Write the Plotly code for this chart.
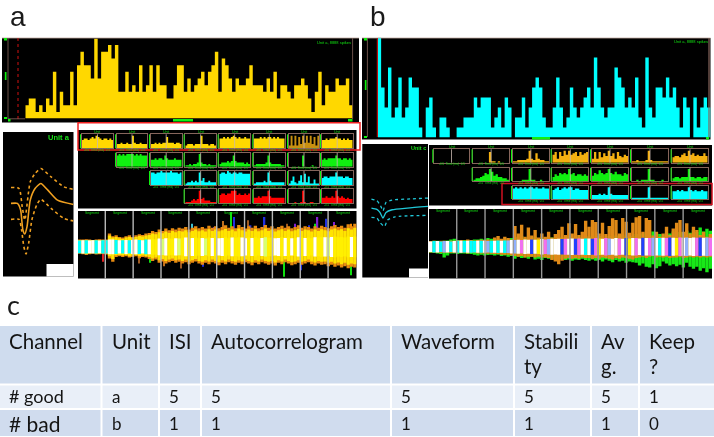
import plotly.graph_objects as go

W, H = 714, 437
GOLD, GREEN, CYAN, RED = "#FFD800", "#10F010", "#00FFFF", "#FF0000"

# ---------- data ----------
hist_a = [2,3,3,1,2,1,3,2,7,1,4,2,2,7,2,8,10,8,8,6,12,6,10,10,11,9,11,4,4,7,4,5,4,8,4,5,8,4,8,5,5,3,3,5,8,8,4,6,4,5,6,7,5,7,8,10,4,9,8,6,4,6,5,5,6,8,5,5,5,4,6,4,7,3,5,5,4,3,5,5,6,5,3,1,4,7,2,5,4,4,6,5,5,6,2]
hist_b = [10,5,3,7,2,3,6,2,3,6,5,5,1,0,3,4,1,0,2,2,1,0,0,1,1,2,2,2,4,3,4,4,4,1,2,3,1,4,3,0,2,2,4,1,3,5,6,5,2,1,1,3,6,3,1,2,5,3,2,3,4,5,3,8,5,3,2,3,3,7,6,5,3,4,3,6,2,1,8,3,2,5,5,4,6,4,5,3,1,4,3,0,4,1,3,4,3]

# cross-correlogram grids: each row lists its cells
grid_a_yellow = [
 [6,7,7,6,7,8,7,9,8,7,6,7,7,6,7,6],[3,3,4,3,3,4,3,3,9,4,3,3,4,3,3,3],[3,3,4,3,4,3,4,4,8,4,4,4,3,4,4,3],
 [2,3,3,3,2,3,3,3,9,3,3,3,2,3,3,2],[7,7,8,7,8,7,8,9,8,7,8,7,7,8,7,7],[7,7,7,8,7,8,7,8,8,7,8,7,8,7,7,7],
 [2,9,2,9,2,8,3,9,4,9,4,9,3,8,2,9],[6,6,7,6,7,7,7,8,7,7,6,7,6,7,6,6]]
grid_a_green = [
 [8,9,8,9,8,9,9,9,9,8,9,8,9,8,8,8],[5,5,6,5,6,6,5,8,6,5,5,5,6,5,5,5],[1,1,2,1,2,2,3,9,3,2,2,1,2,1,1,1],
 [2,3,3,3,4,3,4,8,4,3,3,3,3,2,3,2],[1,2,2,2,2,2,3,8,3,2,2,2,2,2,1,1],[0,0,0,0,0,0,0,8,0,0,0,0,1,0,0,0],
 [5,6,5,6,6,6,6,8,6,6,5,6,6,5,6,5]]
grid_a_cyan = [
 [9,9,8,9,9,10,9,9,9,9,10,9,9,9,8,9],[1,2,2,3,2,3,2,9,3,5,2,2,3,2,2,2],[8,9,9,8,10,9,8,9,9,8,9,9,8,8,8,8],
 [1,2,2,2,2,3,2,9,3,2,2,2,2,2,2,2],[1,3,6,2,1,3,7,2,8,2,6,1,1,4,1,1],[5,6,6,5,6,6,6,9,6,6,6,5,6,6,5,5]]
grid_a_red = [
 [1,1,1,2,3,2,3,9,3,4,2,2,2,1,1,1],[6,7,7,6,7,7,9,9,9,6,7,6,6,7,6,7],[4,4,5,4,5,5,5,9,5,4,4,4,4,4,4,4],
 [0,0,0,1,0,0,1,9,1,0,0,1,1,0,0,0],[4,4,5,4,4,5,4,9,5,4,5,4,3,4,3,3]]
grid_b_gold = [
 [0,0,0,0,0,0,0,0,0,0,0,0,0,0,0,0],[0,0,0,0,0,0,0,8,1,1,0,1,0,0,0,0],[1,1,2,2,2,2,3,9,3,2,7,3,2,2,1,1],
 [6,8,3,8,5,9,6,9,6,7,8,5,8,6,7,8],[3,8,3,8,4,7,5,9,5,7,3,8,5,4,6,5],[1,1,2,1,1,1,2,9,2,1,1,1,1,1,1,1],
 [4,5,5,4,6,7,5,9,6,7,5,6,5,5,7,5]]
grid_b_green = [
 [1,2,2,3,4,6,5,9,7,4,5,3,3,2,2,1],[0,0,0,0,1,1,1,9,1,1,0,0,1,0,0,0],[3,5,4,6,5,6,5,9,5,6,4,5,5,4,5,4],
 [4,6,5,8,6,5,6,9,6,5,7,5,5,4,6,5],[0,0,1,0,1,1,1,9,1,1,0,0,0,1,0,0],[2,3,3,2,3,3,3,9,3,3,2,3,3,2,3,3]]
grid_b_cyan = [
 [8,9,8,9,8,9,8,9,9,8,9,8,8,9,8,8],[7,8,9,7,8,9,8,9,9,7,8,8,7,7,7,7],[3,3,3,4,3,4,3,9,4,3,3,3,3,3,3,3],
 [1,1,1,1,1,1,1,9,1,1,1,1,1,1,1,1],[6,6,7,6,7,6,6,9,7,6,7,6,6,7,6,6]]

# average waveforms (sample, amplitude)
wave_a_t   = [0,20,30,37,43,50,60,75,93,115,145,195]
wave_a_m   = [0,0,-20,-80,-92,-70,10,45,60,40,10,-3]
wave_a_up_t= [0,25,35,43,60,75,93,125,165,195]
wave_a_up  = [48,45,-10,-50,65,90,105,80,50,42]
wave_a_lo_t= [0,25,33,40,47,55,65,80,93,125,165,195]
wave_a_lo  = [-48,-48,-80,-130,-152,-120,-50,-5,12,-15,-45,-53]
wave_b_t   = [0,18,28,38,48,68,118,186]
wave_b_m   = [0,-4,-13,-30,-13,-5,0,5]
wave_b_up_t= [0,18,30,38,48,68,118,186]
wave_b_up  = [27,22,7,-8,17,24,27,30]
wave_b_lo_t= [0,18,28,43,53,78,186]
wave_b_lo  = [-28,-30,-43,-55,-36,-26,-22]

# stability bands: upper and lower extent per time column
band_a_orange_hi = [22,22,23,22,21,22,23,22,22, 40,32,35,30, 28,32,35,30,35,38,36,40, 42,48,45,52,48,55,50,56,52,58,
 55,60,52,58,62,56,60,55,64,58,62,56,60,65,58,62,56,66,60,55, 62,58,64,56,60,66,58,62,55,60,64,58,62,56,60,65,58,62,60,55, 62,58,64,60,56,62,66,60,64,58,68,62,70]
band_a_orange_lo = [20,22,24,22,20,23,22,21,23, 35,45,30,28, 30,28,32,30,28,34,30,32, 36,42,38,48,44,50,46,42,48,45,
 50,46,52,48,44,50,54,48,52,46,50,55,48,52,46,50,54,48,52,46, 50,55,48,52,46,50,54,50,56,48,52,46,50,55,52,48,54,50,46,52, 56,50,54,52,58,54,60,56,62,58,64,60,62]
band_a_yellow_hi = [20,20,21,20,21,20,20,21,20, 34,28,30,26, 24,28,30,26,30,33,31,34, 36,40,38,44,41,46,42,48,44,48,
 46,50,44,48,52,47,50,46,53,48,52,47,50,54,48,52,47,55,50,46, 52,48,53,47,50,55,48,52,46,50,53,48,52,47,50,54,48,52,50,46, 52,48,53,50,47,52,55,50,53,48,56,52,58]
band_a_yellow_lo = [19,20,21,20,19,20,20,19,20, 28,36,25,24, 26,24,28,26,24,28,26,28, 30,35,32,40,36,42,38,35,40,38,
 42,38,44,40,36,42,45,40,44,38,42,46,40,44,38,42,45,40,44,38, 42,46,40,44,38,42,45,42,47,40,44,38,42,46,44,40,45,42,38,44, 47,42,45,44,48,45,50,47,52,48,54,50,52]
band_a_core = [19,20,20,19,20,20,19,20,20, 22,22,21,20, 20,21,20,21,22,21,20,22, 22,24,23,25,24,26,25,24,26,25,
 26,28,25,27,28,26,27,25,28,27,28,26,27,29,26,28,27,29,28,26, 28,27,29,26,27,29,27,28,26,27,29,27,28,26,27,29,28,27,28,26, 29,28,30,29,28,30,31,29,30,28,31,30,31]
band_a_core_colors = "cwcwwcwcc" "wwcw" "cwcwwcwc" "wyywlwyywl" "ywywyywlywywwyywyyww" "ywyywlyywwywywywywyy" "wyywlwyyyyywy"
spike_a_x     = [41,45,49,55,56,61,62,67,75,78,83,85,86,89,98,74,80,45,9,37,98,22,26,31,92,52]
spike_a_hi    = [70,50,60,105,90,80,65,90,70,70,65,70,90,85,70,0,0,0,0,0,0,0,0,0,75,78]
spike_a_lo    = [0,0,0,0,0,0,0,0,0,0,0,0,0,0,0,-90,-70,-60,-45,-65,-85,-50,-48,-58,0,0]
spike_a_color = ["#40C0D0","#2030E0","#8020D0","#10E010","#2030E0","#A05A20","#2030E0","#2030E0","#A05A20","#8020D0","#2030E0","#10E010","#8020D0","#2030E0","#FF8C00","#10E010","#2030E0","#2030E0","#E02020","#A05A20","#10E010","#A05A20","#10E010","#C07020","#8020D0","#C07020"]

band_b_orange_hi = [17,18,17,18,18,17,18,18,19,20,18,22,20,18,20,21,20,22,19,28,32,24,30,26,22,
 62,40,66,30,58,34,50,28,40,30,45,28,38,50,60,35, 70,40,68,35,45,78,60,80,74,40,72,38,62,85,80,40,86,75,42,72, 88,92,45,86,80,34,45,30, 40,60,35,55,72,80,45,70,40,60,50,35,45,30,38]
band_b_orange_lo = [17,18,17,18,18,17,18,18,19,18,18,20,19,18,20,20,20,21,21,22,22,24,24,24,26,
 28,30,28,32,30,30,32,30,32,32,34,40,44,52,42,36, 34,36,34,36,32,34,34,36,34,36,32,34,36,38,34,36,32,34,36,38, 34,32,30,34,30,28,32,30, 32,30,34,32,32,30,34,32,30,32,30,32,30,32,30]
band_b_green_hi  = [17,18,18,17,18,19,22,24,20,18,20,20,20,22,22,24,22,26,24,22,24,22,24,24,26,
 30,28,32,26,30,26,30,24,28,26,30,28,26,30,28,30, 32,28,34,30,28,32,30,34,28,32,30,26,32,28,34,30,36,30,34,32, 38,36,40,44,36,46,42,38, 36,42,40,46,38,44,40,48,42,50,44,58,46,54,48]
band_b_green_lo  = [18,18,20,22,32,26,20,20,22,20,20,22,22,24,26,24,26,25,24,26,24,28,26,30,28,
 36,30,34,32,36,30,38,36,40,34,36,38,36,38,36,40, 38,42,38,40,36,40,42,38,42,40,44,38,42,46,40,44,42,48,44,46, 48,56,50,60,62,52,64,58, 44,50,56,52,58,54,62,48,60,66,60,72,64,76,66]
band_b_core = [16,17,17,16,17,17,16,17,18,18,17,18,18,17,18,18,18,17,18,18,19,18,19,19,20,
 20,21,20,22,21,22,21,22,23,22,23,24,23,24,23,24, 24,25,24,25,24,25,25,24,26,25,24,26,25,24,26,25,24,26,25,26, 26,25,27,26,26,27,26,26, 27,26,28,27,26,28,27,28,26,28,27,28,27,28,27]
band_b_core_colors = "wcwcpwcwcwcwccwcwpcwcwcpw" "pwmwwbwywmpwwwbm" "wwbmwcwbmywmpwwmwbyw" "mwbwmpwc" "wmbwymwpwwmbwpm"

# table
t_header = [["Channel"],["Unit"],["ISI"],["Autocorrelogram"],["Waveform"],["Stabili","ty"],["Av","g."],["Keep","?"]]
t_good = ["# good","a","5","5","5","5","5","1"]
t_bad  = ["# bad","b","1","1","1","1","1","0"]

core_palette = {"c":"#00FFFF","w":"#FFFFFF","y":"#FFF000","l":"#D8FF70","b":"#2040FF","p":"#90B0FF","m":"#F070F0"}

# ---------- helpers ----------
fig = go.Figure()
shapes, annos = [], []
axis_n = [0]

def px(x): return x / W
def py(y): return 1 - y / H

def rect(x0, y0, x1, y1, fill, layer="below"):
    shapes.append(dict(type="rect", xref="paper", yref="paper", x0=px(x0), x1=px(x1), y0=py(y0), y1=py(y1),
                       fillcolor=fill, line_width=0, layer=layer))

def box(x0, y0, x1, y1, color, w):
    shapes.append(dict(type="rect", xref="paper", yref="paper", x0=px(x0), x1=px(x1), y0=py(y0), y1=py(y1),
                       line=dict(color=color, width=w), layer="above"))

def seg(x0, y0, x1, y1, color, w, dash=None, layer="above"):
    shapes.append(dict(type="line", xref="paper", yref="paper", x0=px(x0), x1=px(x1), y0=py(y0), y1=py(y1),
                       line=dict(color=color, width=w, dash=dash), layer=layer))

def text(x, y, s, size, color="#11E011", anchor="center", family="Liberation Sans", bold=False):
    annos.append(dict(xref="paper", yref="paper", x=px(x), y=py(y), text=f"<b>{s}</b>" if bold else s,
                      showarrow=False, xanchor=anchor, yanchor="middle", font=dict(size=size, color=color, family=family)))

def new_axes(x0, y0, x1, y1, xr, yr, line=None):
    axis_n[0] += 1
    n = axis_n[0]
    sfx = "" if n == 1 else str(n)
    ax = dict(domain=[px(x0), px(x1)], range=xr, visible=line is not None, showgrid=False, zeroline=False,
              showticklabels=False, ticks="", fixedrange=True)
    ay = dict(domain=[py(y1), py(y0)], range=yr, visible=line is not None, showgrid=False, zeroline=False,
              showticklabels=False, ticks="", fixedrange=True)
    if line:
        for d in (ax, ay):
            d.update(showline=True, mirror=True, linecolor=line, linewidth=1)
    ax["anchor"] = "y" + sfx
    ay["anchor"] = "x" + sfx
    fig.update_layout({"xaxis" + sfx: ax, "yaxis" + sfx: ay})
    return "x" + sfx, "y" + sfx

def step_fill(values, color, xa, ya):
    n = len(values)
    fig.add_trace(go.Scatter(x=[i - 0.5 for i in range(n + 1)], y=values + [values[-1]], mode="lines", fill="tozeroy",
                             fillcolor=color, line=dict(shape="hv", width=0, color=color), xaxis=xa, yaxis=ya, hoverinfo="skip"))

def hist_panel(values, color, bars, top, base, ymax):
    xa, ya = new_axes(bars[0], top, bars[1], base, [-0.5, len(values) - 0.5], [0, ymax])
    step_fill(values, color, xa, ya)

def corr_cell(values, color, x0, y0, x1, y1, first_row):
    xa, ya = new_axes(x0, y0, x1, y1, [-0.5, len(values) - 0.5], [0, 10], line="#86655C")
    step_fill(values, color, xa, ya)
    seg((x0 + x1) / 2, y0, (x0 + x1) / 2, y1, "#C8B8B0", 0.8)
    seg(x0 - 1.2, y0, x0 - 1.2, y1, GREEN, 1)
    if first_row:
        text((x0 + x1) / 2, y0 - 2, "Unit", 3.5)
    text((x0 + x1) / 2, y1 + 1.8, "-0.5  Time (ms)  0.5", 3)

def wave_panel(x0, y0, x1, y1, yr, xr, curves, color):
    xa, ya = new_axes(x0, y0, x1, y1, xr, yr)
    for t, v, dash, w in curves:
        fig.add_trace(go.Scatter(x=t, y=v, mode="lines", line=dict(color=color, width=w, dash=dash, shape="spline", smoothing=0.6),
                                 xaxis=xa, yaxis=ya, hoverinfo="skip"))

def columns(n):
    return [(i + 0.5) * 100 / n for i in range(n)]

def band_layer(xa, ya, hi, lo, color):
    fig.add_trace(go.Bar(x=columns(len(hi)), y=[a + b for a, b in zip(hi, lo)], base=[-b for b in lo], width=100 / len(hi),
                         marker=dict(color=color, line_width=0), xaxis=xa, yaxis=ya, hoverinfo="skip"))

def core_layer(xa, ya, half, letters):
    fig.add_trace(go.Bar(x=columns(len(half)), y=[2 * h for h in half], base=[-h for h in half], width=100 / len(half),
                         marker=dict(color=[core_palette[c] for c in letters], line_width=0), xaxis=xa, yaxis=ya, hoverinfo="skip"))

def seg_lines(x0, y0, x1, y1, color):
    for k in range(1, 10):
        xx = x0 + (x1 - x0) * (k * 10 - 0.2) / 100
        seg(xx, y0, xx, y1, color, 1.4)
    for k in range(10):
        text(x0 + (x1 - x0) * (k * 10 + 5) / 100, y0 + 1.5, "Segment", 3.5)

# ---------- panel a ----------
rect(2, 38, 359, 122.5, "#000000")
hist_panel(hist_a, GOLD, (25.3, 352.7), 38.4, 118.6, 12)
seg(2, 38, 359, 38, "#C0A8A0", 0.8)
seg(8, 38, 8, 119, "#86655C", 0.8)
seg(18, 38, 18, 119, "#D01010", 1, dash="dot")
seg(352.6, 38, 352.6, 119, "#86655C", 0.8)
seg(8, 118.8, 25, 118.8, "#86655C", 0.8)
rect(4, 38, 7, 40.5, GREEN, "above"); rect(4.8, 72, 6.5, 80, GREEN, "above"); rect(4, 117, 7, 119, GREEN, "above")
rect(8, 119, 10.5, 121.5, GREEN, "above"); rect(173, 119, 193, 121.5, GREEN, "above"); rect(348, 119, 352.5, 121.5, GREEN, "above")
text(334, 42, "Unit a, 8888 spikes", 4)

rect(3, 132, 73.5, 276.5, "#000000")
rect(46.5, 264, 73.5, 276.5, "#FFFFFF", "above")
wave_panel(3, 132, 73.5, 276.5, [-220, 215], [-25, 195],
           [(wave_a_t, wave_a_m, None, 1.6), (wave_a_up_t, wave_a_up, "dot", 1.6), (wave_a_lo_t, wave_a_lo, "dot", 1.6)], "#F0A020")
text(72, 137, "Unit a", 7.5, "#18E018", "right", bold=True)

rect(78, 130, 356.5, 208.5, "#000000")
cols_a = [(81.7,113.3),(116.7,147.3),(150.7,181.7),(185.3,216),(219.3,250),(254,284.7),(288.7,319.3),(321.7,352.7)]
rows_a = [(134.3,148.3),(152.7,166.7),(171,185),(189.3,203.3)]
for r, (cells, color) in enumerate(zip((grid_a_yellow, grid_a_green, grid_a_cyan, grid_a_red), (GOLD, GREEN, CYAN, RED))):
    for c, vals in enumerate(cells):
        cell_color = "#C89010" if (r, c) == (0, 6) else color
        corr_cell(vals, cell_color, cols_a[c + r][0], rows_a[r][0], cols_a[c + r][1], rows_a[r][1], r == 0)
box(78, 122.8, 360, 150, "#F02020", 1.5)

rect(78, 211, 356.5, 278.5, "#000000")
xa, ya = new_axes(78, 211, 356.5, 278.5, [0, 100], [-95, 108])
fig.add_trace(go.Bar(x=spike_a_x, y=[h - l for h, l in zip(spike_a_hi, spike_a_lo)], base=spike_a_lo, width=0.5,
                     marker=dict(color=spike_a_color, line_width=0), xaxis=xa, yaxis=ya, hoverinfo="skip"))
band_layer(xa, ya, band_a_orange_hi, band_a_orange_lo, "#E88A10")
band_layer(xa, ya, band_a_yellow_hi, band_a_yellow_lo, "#FFE400")
core_layer(xa, ya, band_a_core, band_a_core_colors)
seg_lines(78, 211, 356.5, 278.5, "#B8B8B8")

# ---------- panel b ----------
rect(362, 38, 710.5, 139.5, "#000000")
hist_panel(hist_b, CYAN, (377.7, 710.5), 37.6, 137.4, 10)
seg(362, 38, 710.5, 38, "#C0A8A0", 0.8)
seg(367.4, 38, 367.4, 137, "#86655C", 0.8)
seg(377.3, 38, 377.3, 137, "#E01010", 1)
seg(709, 38, 709, 137, "#86655C", 1.2)
rect(364, 38, 367, 40.5, GREEN, "above"); rect(364.8, 80, 366.5, 90, GREEN, "above"); rect(364, 136, 367, 138, GREEN, "above")
rect(532, 137, 550, 139.5, GREEN, "above"); rect(706, 137, 709, 139.5, GREEN, "above")
text(691, 41.5, "Unit a, 8888 spikes", 4)

rect(362.3, 144, 428, 277.5, "#000000")
rect(409, 268.5, 428, 277.5, "#FFFFFF", "above")
wave_panel(362.3, 144, 428, 277.5, [-208, 192], [-30, 186],
           [(wave_b_t, wave_b_m, None, 1.3), (wave_b_up_t, wave_b_up, "dot", 1.3), (wave_b_lo_t, wave_b_lo, "dot", 1.3)], "#20C8D8")
text(428, 148, "Unit c", 5.5, "#18E018", "right", bold=True)

rect(429, 145, 712, 205.5, "#000000")
cols_b = [(434,469),(473.3,509),(512.7,549),(552.3,588.3),(591.7,628.3),(631.7,668.3),(672.3,707.7)]
rows_b = [(149.3,162.7),(167.7,181),(186,199)]
for r, (cells, color) in enumerate(zip((grid_b_gold, grid_b_green, grid_b_cyan), ("#F4B010", GREEN, CYAN))):
    for c, vals in enumerate(cells):
        corr_cell(vals, color, cols_b[c + r][0], rows_b[r][0], cols_b[c + r][1], rows_b[r][1], r == 0)
box(502, 183.5, 712, 204.5, "#D01020", 1.5)

rect(429, 209, 712, 278.5, "#000000")
xa, ya = new_axes(429, 209, 712, 278.5, [0, 100], [-95, 113])
band_layer(xa, ya, band_b_green_hi, band_b_green_lo, "#18E818")
band_layer(xa, ya, band_b_orange_hi, band_b_orange_lo, "#E08A18")
core_layer(xa, ya, band_b_core, band_b_core_colors)
seg_lines(429, 209, 712, 278.5, "#989898")

# ---------- table ----------
col_edges = [(0,100.5),(102.5,158),(160,200),(202,390),(392,513),(515,590),(592,638),(640,714)]
INK = "#141414"
for (c0, c1), lines, good, bad in zip(col_edges, t_header, t_good, t_bad):
    rect(c0, 326, c1, 383.5, "#CFDCEE")
    rect(c0, 385.5, c1, 408, "#E9EFF8")
    rect(c0, 410, c1, 436, "#D0DCEE")
    for k, line in enumerate(lines):
        text(c0 + 7, 341 + 25 * k, line, 20.5, INK, "left", "Lato")
    text(c0 + 7, 396, good, 18 if good.startswith("#") else 17, INK, "left", "Lato")
    text(c0 + 7, 423, bad, 21 if bad.startswith("#") else 17, INK, "left", "Lato")

text(18, 17, "a", 28, "#1A1A1A")
text(378, 17, "b", 28, "#1A1A1A")
text(13, 304, "c", 27, "#1A1A1A", family="Lato")

fig.update_layout(width=W, height=H, margin=dict(l=0, r=0, t=0, b=0), paper_bgcolor="#FFFFFF", plot_bgcolor="rgba(0,0,0,0)",
                  showlegend=False, barmode="overlay", shapes=shapes, annotations=annos)
fig.write_html("out.html", config={"displayModeBar": False},
               post_script="document.body.style.margin='0';document.querySelector('.svg-container').style.filter='blur(0.45px)';")
